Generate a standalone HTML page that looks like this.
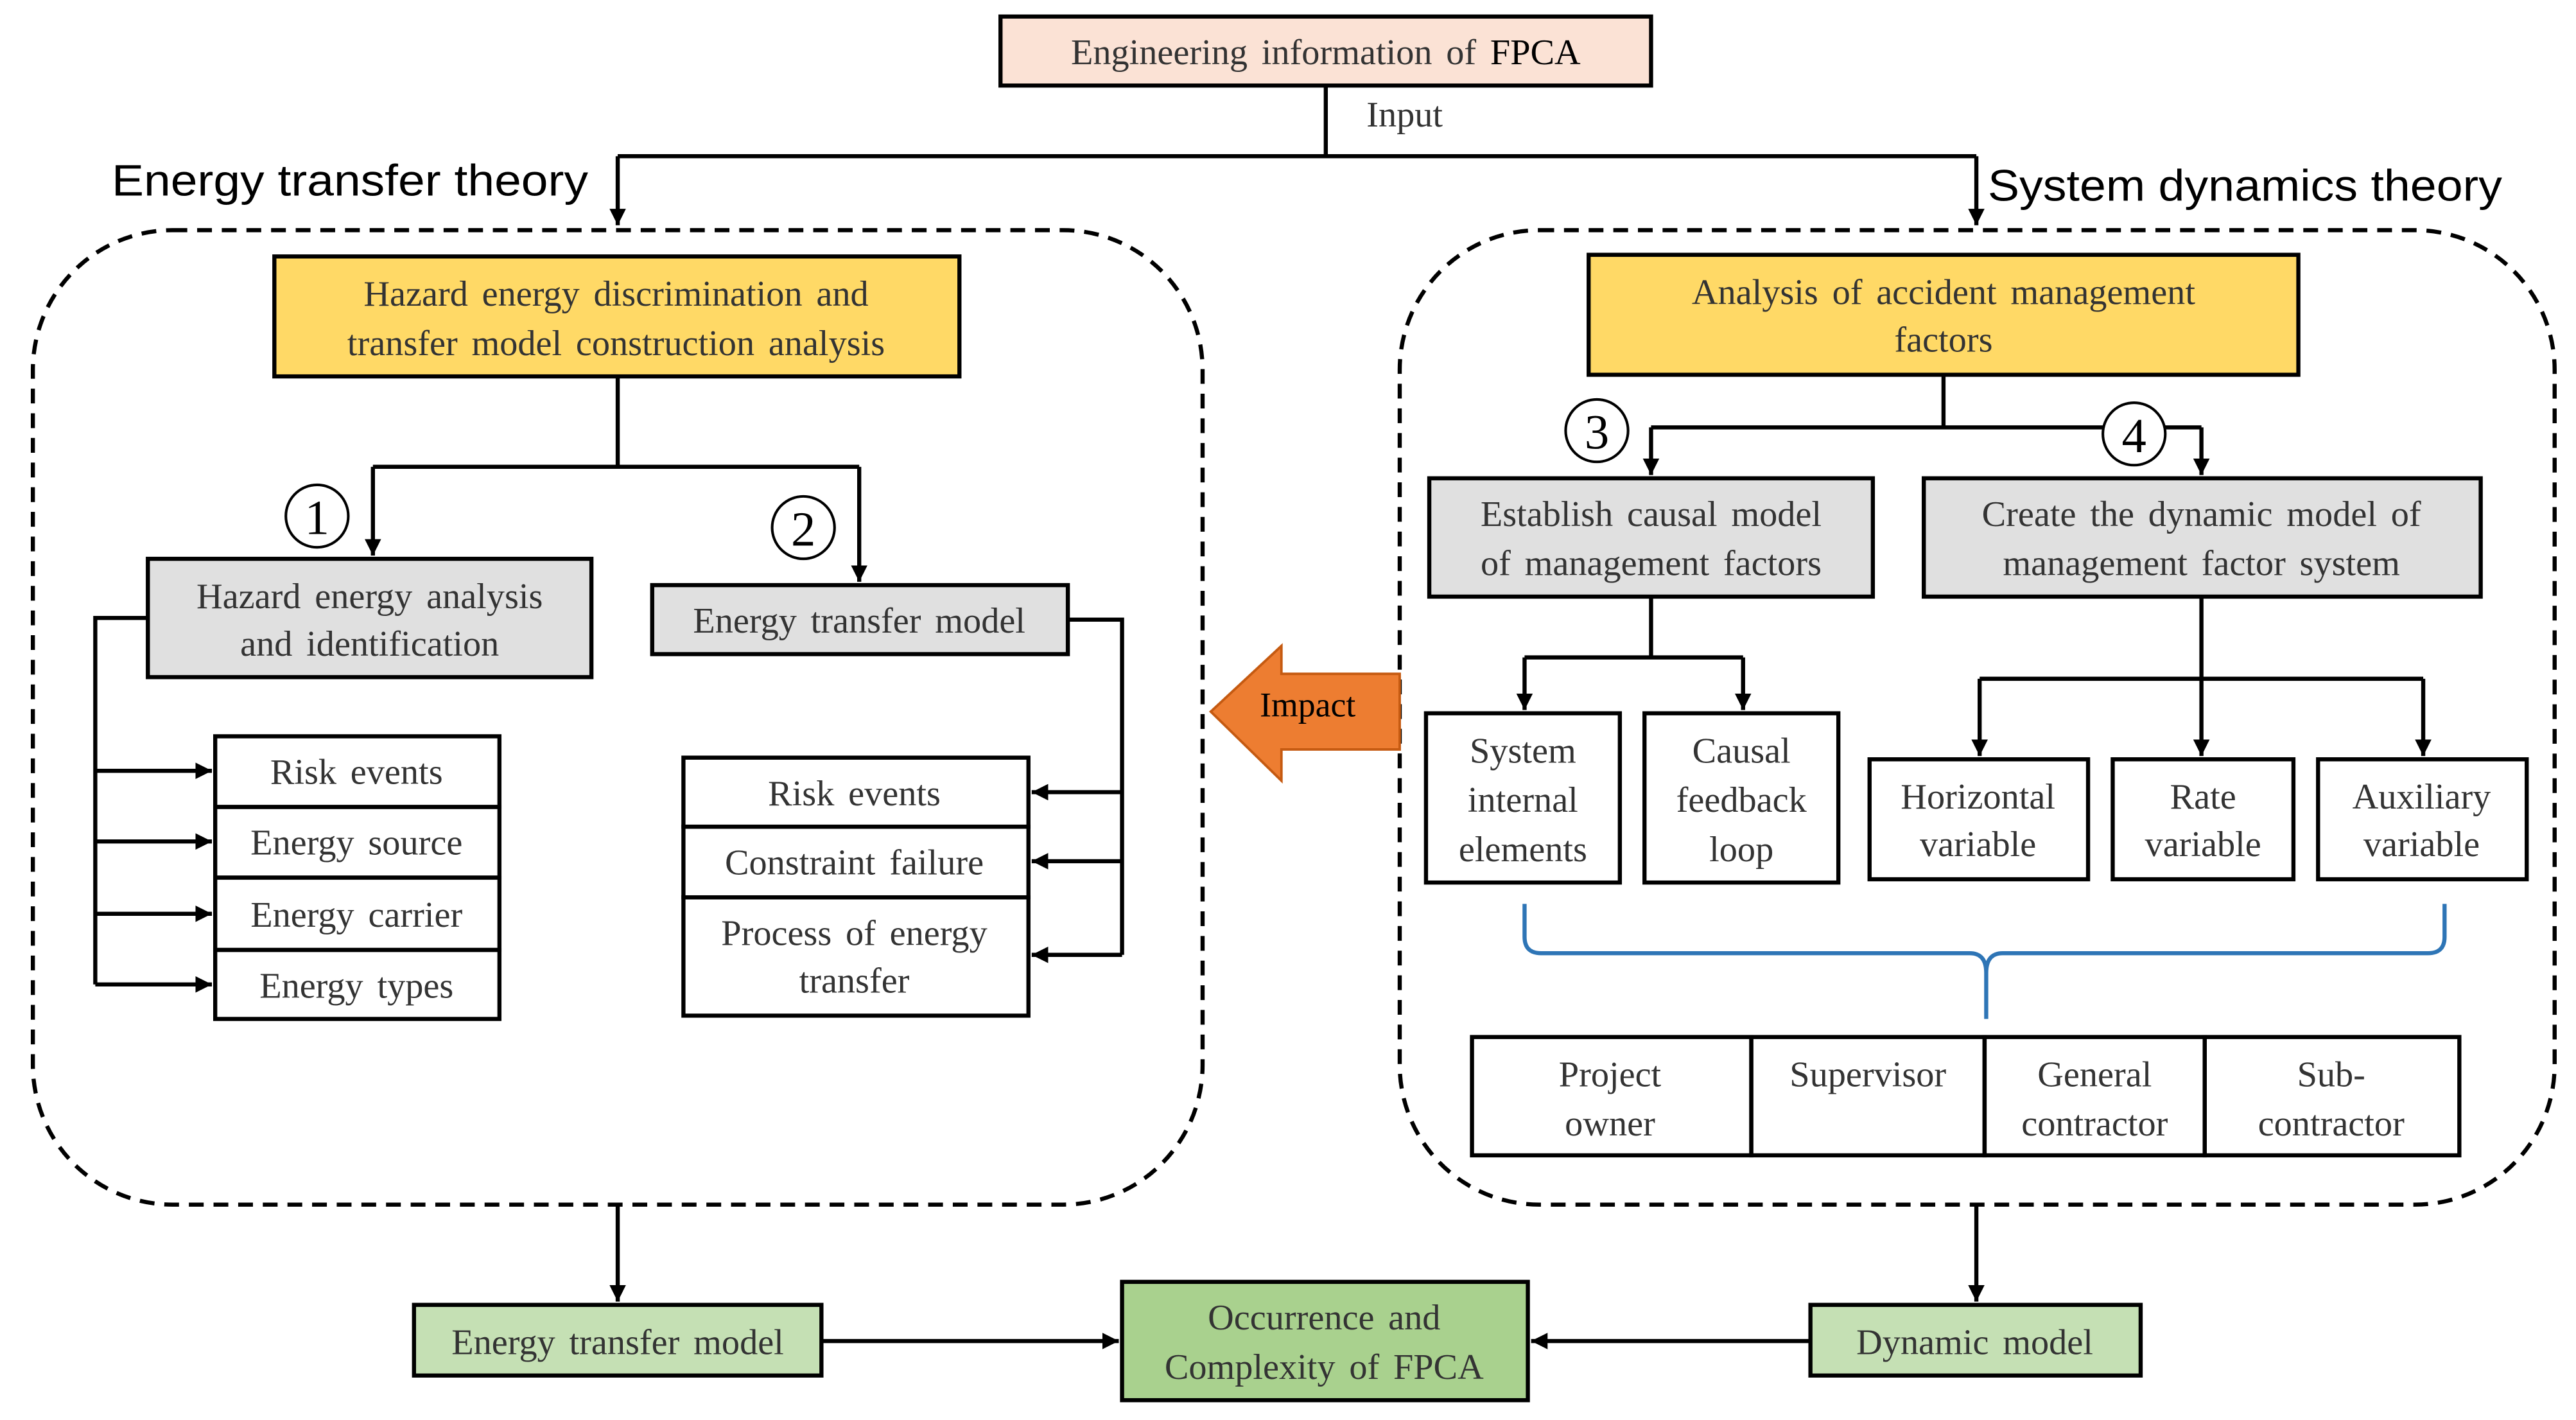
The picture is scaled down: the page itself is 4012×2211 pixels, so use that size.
<!DOCTYPE html>
<html><head><meta charset="utf-8"><style>
html,body{margin:0;padding:0;background:#fff;}
svg{display:block;}
text{font-family:"Liberation Serif",serif;font-size:22px;fill:#333;text-anchor:middle;word-spacing:3px;}
.s{font-family:"Liberation Sans",sans-serif;font-size:27px;fill:#000;text-anchor:start;word-spacing:0;}
.n{font-size:30px;fill:#000;word-spacing:0;}
.b{fill:none;stroke:#000;stroke-width:2.5;}
.l{fill:none;stroke:#000;stroke-width:2.5;}
.c{fill:#fff;stroke:#000;stroke-width:1.6;}
</style></head><body>
<svg width="4012" height="2211" viewBox="0 0 1568 864" xmlns="http://www.w3.org/2000/svg">
<defs><marker id="a" viewBox="0 0 10 10" refX="10" refY="5" markerWidth="4" markerHeight="4" orient="auto"><path d="M0,0L10,5L0,10z" fill="#000"/></marker></defs>
<rect x="609" y="10" width="396" height="42" fill="#fbe2d5" stroke="#000" stroke-width="2.5"/>
<text x="807" y="39">Engineering  information  of <tspan fill="#000">FPCA</tspan></text>
<path class="l" d="M807,52V95M376,95H1203"/>
<path class="l" d="M376,95V137" marker-end="url(#a)"/>
<path class="l" d="M1203,95V137" marker-end="url(#a)"/>
<text x="855" y="77">Input</text>
<text class="s" x="68" y="119" textLength="290" lengthAdjust="spacingAndGlyphs">Energy transfer theory</text>
<text class="s" x="1210" y="122" textLength="313" lengthAdjust="spacingAndGlyphs">System dynamics theory</text>
<rect x="20" y="140" width="712" height="593" rx="85" fill="none" stroke="#000" stroke-width="2.5" stroke-dasharray="9,6"/>
<rect x="852" y="140" width="703" height="593" rx="85" fill="none" stroke="#000" stroke-width="2.5" stroke-dasharray="9,6"/>
<!-- left -->
<rect x="167" y="156" width="417" height="73" fill="#ffd966" stroke="#000" stroke-width="2.5"/>
<text x="375" y="186">Hazard  energy  discrimination  and</text>
<text x="375" y="216">transfer  model  construction  analysis</text>
<path class="l" d="M376,229V284M227,284H523"/>
<path class="l" d="M227,284V338" marker-end="url(#a)"/>
<path class="l" d="M523,284V354" marker-end="url(#a)"/>
<circle class="c" cx="193" cy="314" r="19"/><text class="n" x="193" y="325">1</text>
<circle class="c" cx="489" cy="321" r="19"/><text class="n" x="489" y="332">2</text>
<rect x="90" y="340" width="270" height="72" fill="#e0e0e0" stroke="#000" stroke-width="2.5"/>
<text x="225" y="370">Hazard  energy  analysis</text><text x="225" y="399">and  identification</text>
<rect x="397" y="356" width="253" height="42" fill="#e0e0e0" stroke="#000" stroke-width="2.5"/>
<text x="523" y="385">Energy  transfer  model</text>
<g><rect class="b" x="131" y="448" width="173" height="43"/><rect class="b" x="131" y="491" width="173" height="43"/><rect class="b" x="131" y="534" width="173" height="44"/><rect class="b" x="131" y="578" width="173" height="42"/></g>
<text x="217" y="477">Risk  events</text><text x="217" y="520">Energy  source</text><text x="217" y="564">Energy  carrier</text><text x="217" y="607">Energy  types</text>
<path class="l" d="M90,376H58V599"/>
<path class="l" d="M58,469H129" marker-end="url(#a)"/><path class="l" d="M58,512H129" marker-end="url(#a)"/><path class="l" d="M58,556H129" marker-end="url(#a)"/><path class="l" d="M58,599H129" marker-end="url(#a)"/>
<rect class="b" x="416" y="461" width="210" height="42"/><rect class="b" x="416" y="503" width="210" height="43"/><rect class="b" x="416" y="546" width="210" height="72"/>
<text x="520" y="490">Risk  events</text><text x="520" y="532">Constraint  failure</text><text x="520" y="575">Process  of  energy</text><text x="520" y="604">transfer</text>
<path class="l" d="M650,377H683V581"/>
<path class="l" d="M683,482H628" marker-end="url(#a)"/><path class="l" d="M683,524H628" marker-end="url(#a)"/><path class="l" d="M683,581H628" marker-end="url(#a)"/>
<!-- impact -->
<path d="M737,433L780,393V410H852V456H780V475Z" fill="#ed7d31" stroke="#c55a11" stroke-width="1.5"/>
<text x="796" y="436" style="fill:#000;font-size:21px">Impact</text>
<!-- right -->
<rect x="967" y="155" width="432" height="73" fill="#ffd966" stroke="#000" stroke-width="2.5"/>
<text x="1183" y="185">Analysis  of  accident  management</text><text x="1183" y="214">factors</text>
<path class="l" d="M1183,228V260M1005,260H1340"/>
<path class="l" d="M1005,260V289" marker-end="url(#a)"/><path class="l" d="M1340,260V289" marker-end="url(#a)"/>
<circle class="c" cx="972" cy="262" r="19"/><text class="n" x="972" y="273">3</text>
<circle class="c" cx="1299" cy="264" r="19"/><text class="n" x="1299" y="275">4</text>
<rect x="870" y="291" width="270" height="72" fill="#e0e0e0" stroke="#000" stroke-width="2.5"/>
<text x="1005" y="320">Establish  causal  model</text><text x="1005" y="350">of  management  factors</text>
<rect x="1171" y="291" width="339" height="72" fill="#e0e0e0" stroke="#000" stroke-width="2.5"/>
<text x="1340" y="320">Create  the  dynamic  model  of</text><text x="1340" y="350">management  factor  system</text>
<path class="l" d="M1005,363V400M928,400H1061"/>
<path class="l" d="M928,400V432" marker-end="url(#a)"/><path class="l" d="M1061,400V432" marker-end="url(#a)"/>
<rect class="b" x="868" y="434" width="118" height="103"/><rect class="b" x="1001" y="434" width="118" height="103"/>
<text x="927" y="464">System</text><text x="927" y="494">internal</text><text x="927" y="524">elements</text>
<text x="1060" y="464">Causal</text><text x="1060" y="494">feedback</text><text x="1060" y="524">loop</text>
<path class="l" d="M1340,363V413M1205,413H1475"/>
<path class="l" d="M1205,413V460" marker-end="url(#a)"/><path class="l" d="M1340,413V460" marker-end="url(#a)"/><path class="l" d="M1475,413V460" marker-end="url(#a)"/>
<rect class="b" x="1138" y="462" width="133" height="73"/><rect class="b" x="1286" y="462" width="110" height="73"/><rect class="b" x="1411" y="462" width="127" height="73"/>
<text x="1204" y="492">Horizontal</text><text x="1204" y="521">variable</text>
<text x="1341" y="492">Rate</text><text x="1341" y="521">variable</text>
<text x="1474" y="492">Auxiliary</text><text x="1474" y="521">variable</text>
<path d="M928,550V570Q928,580 938,580H1199Q1209,580 1209,592V620M1209,592Q1209,580 1219,580H1478Q1488,580 1488,570V550" fill="none" stroke="#2e75b6" stroke-width="2.5"/>
<rect class="b" x="896" y="631" width="170" height="72"/><rect class="b" x="1066" y="631" width="142" height="72"/><rect class="b" x="1208" y="631" width="134" height="72"/><rect class="b" x="1342" y="631" width="155" height="72"/>
<text x="980" y="661">Project</text><text x="980" y="691">owner</text>
<text x="1137" y="661">Supervisor</text>
<text x="1275" y="661">General</text><text x="1275" y="691">contractor</text>
<text x="1419" y="661">Sub-</text><text x="1419" y="691">contractor</text>
<!-- bottom -->
<path class="l" d="M376,733V792" marker-end="url(#a)"/><path class="l" d="M1203,733V792" marker-end="url(#a)"/>
<rect x="252" y="794" width="248" height="43" fill="#c5e0b4" stroke="#000" stroke-width="2.5"/>
<text x="376" y="824">Energy  transfer  model</text>
<rect x="683" y="780" width="247" height="72" fill="#a9d18e" stroke="#000" stroke-width="2.5"/>
<text x="806" y="809">Occurrence  and</text><text x="806" y="839">Complexity  of  FPCA</text>
<rect x="1102" y="794" width="201" height="43" fill="#c5e0b4" stroke="#000" stroke-width="2.5"/>
<text x="1202" y="824">Dynamic  model</text>
<path class="l" d="M500,816H681" marker-end="url(#a)"/><path class="l" d="M1102,816H932" marker-end="url(#a)"/>
</svg>
</body></html>
